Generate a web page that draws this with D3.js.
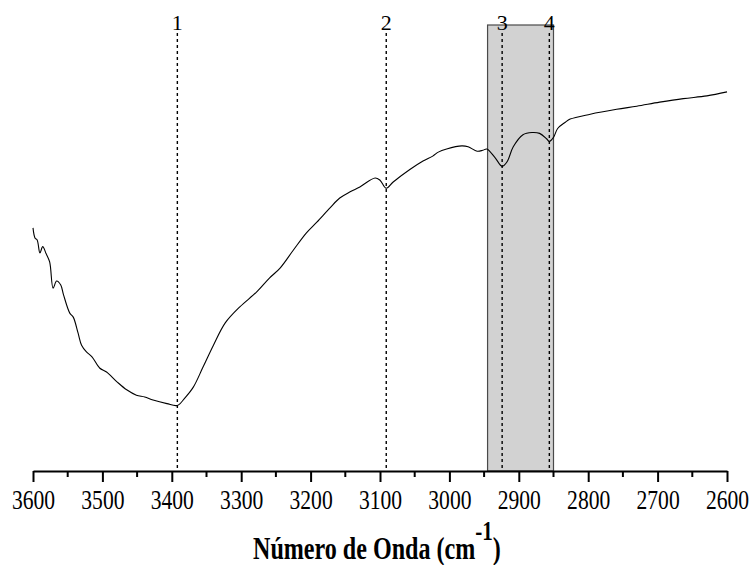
<!DOCTYPE html>
<html>
<head>
<meta charset="utf-8">
<script src="https://cdn.jsdelivr.net/npm/d3@7"></script>
<style>
  html, body { margin: 0; padding: 0; background: #fff; }
  svg { display: block; }
</style>
</head>
<body>
<svg id="chart" width="751" height="565"></svg>
<script>
// FTIR spectrum, 3600–2600 cm-1 (transmittance, arbitrary units)
const wavenumbers = [
  3600, 3597, 3594, 3590, 3586, 3581, 3576, 3571, 3566, 3560, 3556, 3547, 3542, 3535, 3530,
  3523, 3515, 3504, 3494, 3479, 3465, 3451, 3439, 3427, 3407, 3392, 3381, 3369, 3355, 3340,
  3323, 3302, 3278, 3259, 3244, 3225, 3206, 3191, 3172, 3158, 3143, 3129, 3107, 3100, 3091,
  3081, 3057, 3038, 3024, 3016, 3004, 2982, 2973, 2960, 2952, 2946, 2934, 2924, 2917, 2908,
  2894, 2881, 2870, 2860, 2856, 2850, 2844, 2833, 2826, 2797, 2759, 2730, 2697, 2663, 2629, 2600
];
const transmittance = [
  54.5, 52.2, 51.8, 48.9, 50.3, 48.7, 46.9, 41.0, 42.6, 41.7, 39.5, 35.4, 34.5, 30.9, 28.2,
  26.7, 25.6, 23.1, 22.2, 20.0, 18.2, 17.0, 16.6, 15.9, 15.1, 14.7, 16.4, 18.8, 23.3, 28.2,
  33.2, 36.8, 40.1, 43.3, 45.5, 49.5, 53.4, 55.8, 59.0, 61.2, 62.6, 63.7, 65.7, 65.2, 63.4,
  64.8, 67.6, 69.5, 70.6, 71.5, 72.2, 72.9, 72.7, 71.7, 71.9, 72.2, 70.2, 68.3, 69.3, 72.7,
  75.4, 75.9, 75.7, 74.5, 73.9, 74.8, 76.8, 78.2, 78.9, 80.0, 81.1, 81.8, 82.7, 83.5, 84.1, 85.0
];

// Marked bands and highlighted region
const bandPositions = [3392, 3091, 2924, 2856];
const bandLabels = ["1", "2", "3", "4"];
const regionRange = [2945, 2850];

// Axis ticks
const majorTicks = d3.range(3600, 2599, -100);
const minorTicks = d3.range(3550, 2600, -100);
const xTitle = "Número de Onda (cm";
const xTitleSup = "-1";

const svg = d3.select("#chart");
const axisY = 471;
const x = d3.scaleLinear().domain([3600, 2600]).range([33, 727]);
const y = d3.scaleLinear().domain([0, 100]).range([axisY, 25]);

const serif = "'Liberation Serif', 'Times New Roman', serif";

// Highlighted region
svg.append("rect")
  .attr("x", x(regionRange[0]))
  .attr("y", y(100))
  .attr("width", x(regionRange[1]) - x(regionRange[0]))
  .attr("height", axisY - y(100))
  .attr("fill", "#d2d2d2")
  .attr("stroke", "#4a4a4a")
  .attr("stroke-width", 1.2);

// Dashed band markers
svg.append("g").selectAll("line")
  .data(bandPositions)
  .join("line")
  .attr("x1", d => x(d)).attr("x2", d => x(d))
  .attr("y1", 33).attr("y2", axisY)
  .attr("stroke", "#000")
  .attr("stroke-width", 1.4)
  .attr("stroke-dasharray", "3,3");

svg.append("g").selectAll("text")
  .data(bandPositions)
  .join("text")
  .attr("x", d => x(d))
  .attr("y", 30)
  .attr("text-anchor", "middle")
  .attr("font-family", serif)
  .attr("font-size", 22)
  .text((d, i) => bandLabels[i]);

// Spectrum
const pts = wavenumbers.map((w, i) => [w, transmittance[i]]);
svg.append("path")
  .datum(pts)
  .attr("fill", "none")
  .attr("stroke", "#000")
  .attr("stroke-width", 1.1)
  .attr("d", d3.line().x(d => x(d[0])).y(d => y(d[1])).curve(d3.curveCatmullRom.alpha(0.5)));

// X axis
const gx = svg.append("g").attr("transform", `translate(0,${axisY})`);
gx.call(d3.axisBottom(x).tickValues(majorTicks).tickSize(11).tickSizeOuter(0).tickFormat(d3.format("d")));
gx.select(".domain").attr("stroke-width", 2);
gx.selectAll(".tick line").attr("stroke-width", 2);
gx.selectAll(".tick text")
  .attr("y", 38).attr("dy", 0)
  .style("font-family", serif)
  .style("font-size", "27px")
  .attr("fill", "#000")
  .attr("transform", "scale(0.8,1)");

svg.append("g").attr("transform", `translate(0,${axisY})`)
  .selectAll("line")
  .data(minorTicks)
  .join("line")
  .attr("x1", d => x(d)).attr("x2", d => x(d))
  .attr("y1", 0).attr("y2", 6)
  .attr("stroke", "#000")
  .attr("stroke-width", 2);

// Axis title with superscript
const titleG = svg.append("g");
const title = titleG.append("text")
  .attr("font-family", serif)
  .attr("font-weight", "bold")
  .attr("font-size", 32);
title.append("tspan").text(xTitle);
title.append("tspan").attr("font-size", 28).attr("dy", -19).text(xTitleSup);
title.append("tspan").attr("dy", 19).text(")");
const len = title.node().getComputedTextLength();
const targetW = 248;
title.attr("x", -len / 2);
titleG.attr("transform", `translate(377,559) scale(${targetW / len},1)`);
</script>
</body>
</html>
